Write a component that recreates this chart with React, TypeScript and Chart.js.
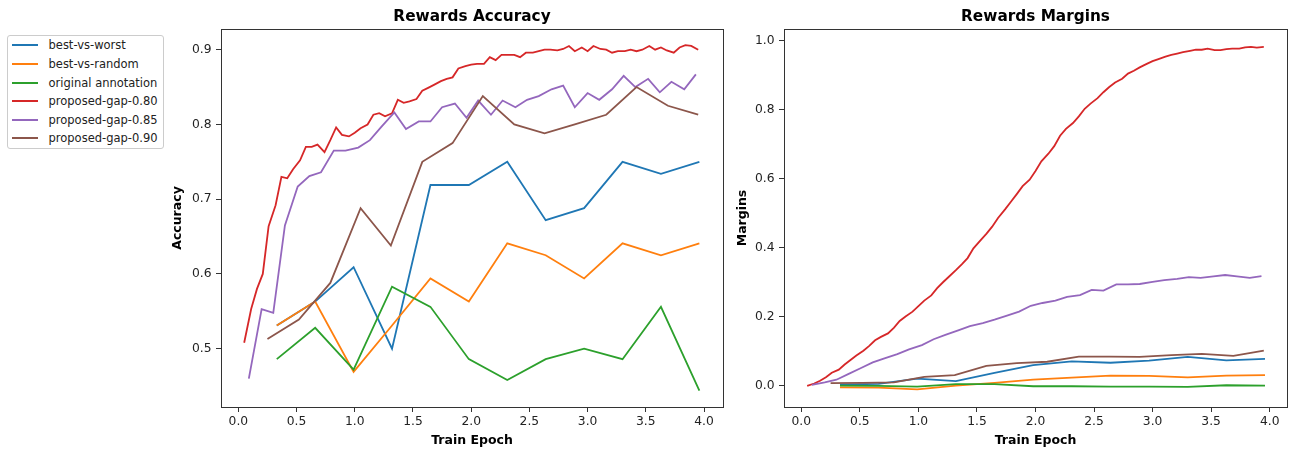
import React, { useEffect, useRef } from "react";
import { Chart, registerables } from "chart.js";

Chart.register(...registerables);

// ---------- data ----------
const seriesNames = [
  "best-vs-worst",
  "best-vs-random",
  "original annotation",
  "proposed-gap-0.80",
  "proposed-gap-0.85",
  "proposed-gap-0.90",
];
const seriesColors = ["#1f77b4", "#ff7f0e", "#2ca02c", "#d62728", "#9467bd", "#8c564b"];

const xTicks = [0.0, 0.5, 1.0, 1.5, 2.0, 2.5, 3.0, 3.5, 4.0];
const accTicks = [0.5, 0.6, 0.7, 0.8, 0.9];
const marginTicks = [0.0, 0.2, 0.4, 0.6, 0.8, 1.0];

// epochs (x) of each logging schedule
const baseEpochs = [0.33, 0.66, 0.99, 1.32, 1.65, 1.98, 2.31, 2.64, 2.97, 3.30, 3.63, 3.96];
const gap80Epochs = [
  0.05, 0.11, 0.16, 0.21, 0.26, 0.32, 0.37, 0.42, 0.47, 0.53, 0.58, 0.63, 0.68, 0.74, 0.79,
  0.84, 0.89, 0.95, 1.00, 1.05, 1.11, 1.16, 1.21, 1.26, 1.32, 1.37, 1.42, 1.47, 1.53, 1.58,
  1.63, 1.68, 1.74, 1.79, 1.84, 1.89, 1.95, 2.00, 2.05, 2.11, 2.16, 2.21, 2.26, 2.32, 2.37,
  2.42, 2.47, 2.53, 2.58, 2.63, 2.68, 2.74, 2.79, 2.84, 2.89, 2.95, 3.00, 3.05, 3.11, 3.16,
  3.21, 3.26, 3.32, 3.37, 3.42, 3.47, 3.53, 3.58, 3.63, 3.68, 3.74, 3.79, 3.84, 3.89, 3.95,
];
const gap85Epochs = [
  0.09, 0.20, 0.30, 0.40, 0.51, 0.61, 0.71, 0.82, 0.92, 1.03, 1.13, 1.23, 1.34, 1.44, 1.55,
  1.65, 1.75, 1.86, 1.96, 2.06, 2.17, 2.27, 2.38, 2.48, 2.58, 2.69, 2.79, 2.89, 3.00, 3.10,
  3.21, 3.31, 3.41, 3.52, 3.62, 3.72, 3.83, 3.93,
];
const gap90Epochs = [0.25, 0.52, 0.79, 1.05, 1.31, 1.58, 1.84, 2.10, 2.37, 2.63, 2.89, 3.16, 3.42, 3.69, 3.95];

// Rewards Accuracy
const bestWorstAcc = [0.531, 0.563, 0.609, 0.500, 0.719, 0.719, 0.750, 0.672, 0.688, 0.750, 0.734, 0.750];
const bestRandomAcc = [0.531, 0.563, 0.469, 0.531, 0.594, 0.563, 0.641, 0.625, 0.594, 0.641, 0.625, 0.641];
const originalAcc = [0.486, 0.528, 0.472, 0.583, 0.556, 0.486, 0.458, 0.486, 0.500, 0.486, 0.556, 0.444];
const gap80Acc = [
  0.508, 0.553, 0.580, 0.600, 0.664, 0.692, 0.730, 0.728, 0.740, 0.752, 0.770, 0.770, 0.773, 0.763, 0.779,
  0.796, 0.786, 0.784, 0.789, 0.795, 0.800, 0.813, 0.815, 0.811, 0.815, 0.833, 0.829, 0.831, 0.834, 0.845,
  0.849, 0.853, 0.858, 0.861, 0.863, 0.875, 0.878, 0.880, 0.881, 0.881, 0.890, 0.886, 0.893, 0.893, 0.893,
  0.890, 0.896, 0.896, 0.898, 0.900, 0.900, 0.899, 0.901, 0.905, 0.898, 0.903, 0.898, 0.905, 0.901, 0.900,
  0.896, 0.898, 0.898, 0.900, 0.898, 0.900, 0.905, 0.900, 0.903, 0.899, 0.896, 0.903, 0.906, 0.905, 0.900,
];
const gap85Acc = [
  0.460, 0.553, 0.548, 0.665, 0.717, 0.731, 0.736, 0.765, 0.765, 0.769, 0.779, 0.797, 0.816, 0.794, 0.804,
  0.804, 0.823, 0.828, 0.809, 0.832, 0.813, 0.832, 0.823, 0.833, 0.838, 0.847, 0.852, 0.823, 0.842, 0.833,
  0.847, 0.865, 0.850, 0.861, 0.843, 0.857, 0.847, 0.867,
];
const gap90Acc = [0.513, 0.539, 0.588, 0.688, 0.638, 0.750, 0.775, 0.838, 0.800, 0.788, 0.800, 0.813, 0.850, 0.825, 0.813];

// Rewards Margins
const bestWorstMargin = [0.004, 0.006, 0.021, 0.014, 0.038, 0.060, 0.071, 0.067, 0.073, 0.084, 0.074, 0.078];
const bestRandomMargin = [-0.004, -0.005, -0.010, 0.001, 0.009, 0.018, 0.024, 0.030, 0.029, 0.025, 0.030, 0.031];
const originalMargin = [0.001, 0.000, -0.002, 0.005, 0.005, -0.001, -0.001, -0.002, -0.002, -0.003, 0.002, 0.001];
const gap80Margin = [
  0.000, 0.007, 0.015, 0.025, 0.038, 0.047, 0.062, 0.075, 0.088, 0.102, 0.116, 0.132, 0.142, 0.152, 0.168,
  0.188, 0.201, 0.215, 0.231, 0.247, 0.262, 0.283, 0.300, 0.316, 0.335, 0.352, 0.370, 0.398, 0.421, 0.440,
  0.461, 0.486, 0.511, 0.533, 0.555, 0.578, 0.597, 0.622, 0.650, 0.672, 0.694, 0.724, 0.744, 0.761, 0.780,
  0.802, 0.817, 0.833, 0.850, 0.865, 0.878, 0.889, 0.904, 0.912, 0.922, 0.932, 0.940, 0.946, 0.953, 0.958,
  0.962, 0.966, 0.970, 0.973, 0.973, 0.976, 0.972, 0.972, 0.975, 0.976, 0.976, 0.980, 0.981, 0.979, 0.981,
];
const gap85Margin = [
  0.003, 0.010, 0.018, 0.034, 0.052, 0.068, 0.080, 0.092, 0.106, 0.118, 0.135, 0.148, 0.161, 0.173, 0.182,
  0.192, 0.203, 0.215, 0.232, 0.240, 0.247, 0.258, 0.263, 0.278, 0.276, 0.294, 0.294, 0.295, 0.301, 0.306,
  0.310, 0.315, 0.313, 0.317, 0.321, 0.317, 0.313, 0.318,
];
const gap90Margin = [0.008, 0.009, 0.010, 0.026, 0.031, 0.058, 0.066, 0.070, 0.085, 0.085, 0.084, 0.089, 0.093, 0.087, 0.102];

const accSeries = [bestWorstAcc, bestRandomAcc, originalAcc, gap80Acc, gap85Acc, gap90Acc];
const marginSeries = [bestWorstMargin, bestRandomMargin, originalMargin, gap80Margin, gap85Margin, gap90Margin];
const seriesEpochs = [baseEpochs, baseEpochs, baseEpochs, gap80Epochs, gap85Epochs, gap90Epochs];

// ---------- styling ----------
const FONT = "'DejaVu Sans', 'Liberation Sans', sans-serif";
const TEXT = "#222222";
const SPINE = "#333333";

const framePlugin = {
  id: "frame",
  afterDraw(chart: any, _args: any, opts: any) {
    const { ctx, chartArea: a } = chart;
    ctx.save();
    ctx.strokeStyle = SPINE;
    ctx.lineWidth = 1;
    ctx.strokeRect(a.left + 0.5, a.top + 0.5, a.right - a.left, a.bottom - a.top);
    if (opts && opts.title) {
      ctx.fillStyle = "#000";
      ctx.font = `bold 15.3px ${FONT}`;
      ctx.textAlign = "center";
      ctx.textBaseline = "alphabetic";
      ctx.fillText(opts.title, (a.left + a.right) / 2, 21);
    }
    ctx.restore();
  },
};

function buildConfig(
  title: string,
  yLabel: string,
  series: number[][],
  xRange: [number, number],
  yRange: [number, number],
  yTickValues: number[],
  yStep: number,
  yWidth: number,
  rightPad: number
): any {
  const datasets = series.map((ys, i) => ({
    label: seriesNames[i],
    data: seriesEpochs[i].map((x, j) => ({ x, y: ys[j] })),
    borderColor: seriesColors[i],
    backgroundColor: seriesColors[i],
    borderWidth: 1.8,
    pointRadius: 0,
    fill: false,
    tension: 0,
    order: series.length - 1 - i,
  }));
  return {
    type: "line",
    data: { datasets },
    options: {
      responsive: false,
      animation: false,
      devicePixelRatio: 1,
      layout: { padding: { left: 0, right: rightPad, top: 29, bottom: 0 }, autoPadding: false },
      plugins: {
        legend: { display: false },
        tooltip: { enabled: false },
        title: { display: false },
        frame: { title },
      },
      scales: {
        x: {
          type: "linear",
          min: xRange[0],
          max: xRange[1],
          afterFit: (s: any) => {
            s.height = 46;
          },
          afterBuildTicks: (s: any) => {
            s.ticks = xTicks.map((v) => ({ value: v }));
          },
          ticks: {
            font: { family: FONT, size: 12.3 },
            color: TEXT,
            padding: 2,
            maxRotation: 0,
            autoSkip: false,
            callback: (v: number) => Number(v).toFixed(1),
          },
          grid: { display: true, drawOnChartArea: false, drawTicks: true, tickLength: 5, color: SPINE, lineWidth: 1 },
          border: { display: false },
          title: {
            display: true,
            text: "Train Epoch",
            color: "#000",
            font: { family: FONT, size: 12.5, weight: "bold" },
            padding: { top: 0, bottom: 5 },
          },
        },
        y: {
          type: "linear",
          min: yRange[0],
          max: yRange[1],
          afterFit: (s: any) => {
            s.width = yWidth;
          },
          afterBuildTicks: (s: any) => {
            s.ticks = yTickValues.map((v) => ({ value: v }));
          },
          ticks: {
            font: { family: FONT, size: 12.3 },
            color: TEXT,
            padding: 4.5,
            stepSize: yStep,
            autoSkip: false,
            callback: (v: number) => Number(v).toFixed(1),
          },
          grid: { display: true, drawOnChartArea: false, drawTicks: true, tickLength: 5, color: SPINE, lineWidth: 1 },
          border: { display: false },
          title: {
            display: true,
            text: yLabel,
            color: "#000",
            font: { family: FONT, size: 12.5, weight: "bold" },
            padding: { top: 0.5, bottom: 0 },
          },
        },
      },
    },
    plugins: [framePlugin],
  };
}

function ChartCanvas(props: { config: () => any; left: number; width: number }) {
  const ref = useRef<HTMLCanvasElement | null>(null);
  useEffect(() => {
    if (!ref.current) return;
    const chart = new Chart(ref.current, props.config());
    return () => chart.destroy();
  }, []);
  return (
    <canvas
      ref={ref}
      width={props.width}
      height={453}
      style={{ position: "absolute", left: props.left, top: 0, width: props.width, height: 453, display: "block" }}
    />
  );
}

function Legend() {
  return (
    <div
      style={{
        position: "absolute",
        left: 7,
        top: 35,
        width: 157,
        height: 114,
        border: "1px solid #cccccc",
        borderRadius: 3,
        boxSizing: "border-box",
        background: "#fff",
        fontFamily: FONT,
        fontSize: "11.5px",
        color: TEXT,
      }}
    >
      {seriesNames.map((name, i) => (
        <div key={name} style={{ position: "absolute", left: 0, top: 0.3 + i * 18.6, height: 18, width: 155 }}>
          <div
            style={{ position: "absolute", left: 4, top: 8, width: 26, height: 2, background: seriesColors[i] }}
          />
          <div style={{ position: "absolute", left: 40.5, top: 0, lineHeight: "18px", whiteSpace: "nowrap" }}>
            {name}
          </div>
        </div>
      ))}
    </div>
  );
}

export default function App() {
  return (
    <div
      style={{
        position: "absolute",
        left: 0,
        top: 0,
        width: 1296,
        height: 453,
        background: "#ffffff",
        overflow: "hidden",
      }}
    >
      <Legend />
      <ChartCanvas
        left={170}
        width={565}
        config={() =>
          buildConfig("Rewards Accuracy", "Accuracy", accSeries, [-0.149, 4.163], [0.422, 0.9277], accTicks, 0.1, 51, 12)
        }
      />
      <ChartCanvas
        left={735}
        width={561}
        config={() =>
          buildConfig("Rewards Margins", "Margins", marginSeries, [-0.148, 4.148], [-0.061, 1.033], marginTicks, 0.2, 49, 9)
        }
      />
    </div>
  );
}
